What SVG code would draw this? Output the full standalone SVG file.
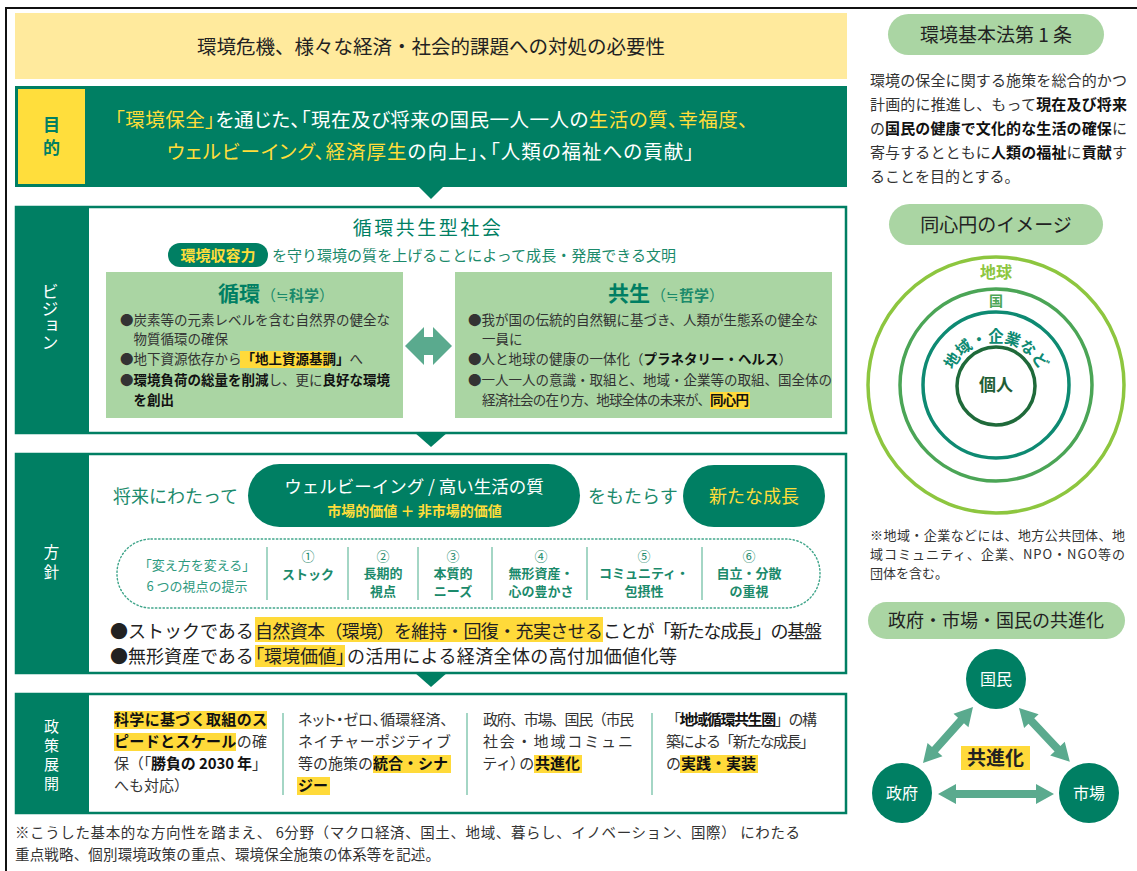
<svg xmlns="http://www.w3.org/2000/svg" width="1137" height="871" viewBox="0 0 1137 871">
<style>
text{font-family:'Noto Sans CJK JP','Noto Sans CJK SC',sans-serif;}
.g{fill:#007F63}.w{fill:#fff}.y{fill:#FFDD3A}.b{font-weight:700}.dk{fill:#333}.bk{fill:#111}.tl{fill:#1B8A6B}
.hl{fill:#FFDA3A}
.lgbox{fill:#AAD5A3}
.sec{fill:#fff;stroke:#007F63;stroke-width:2.5}
.sep{stroke:#86C8B2;stroke-width:1.5}
.arr{fill:#5AAA8E}
.c{text-anchor:middle}
.p{font-feature-settings:'palt'}
</style>

<!-- frame -->
<path d="M6,871 V8 H1137" fill="none" stroke="#111" stroke-width="2"/>

<!-- header -->
<g id="header">
<rect x="15" y="13" width="832" height="66" fill="#FFEA9D"/>
<text x="431" y="54" font-size="19.5" class="c" fill="#222" textLength="468" lengthAdjust="spacing">環境危機、様々な経済・社会的課題への対処の必要性</text>
</g>

<!-- purpose -->
<g id="purpose">
<rect x="15" y="86" width="832" height="101" class="g"/>
<rect x="18" y="89" width="67" height="95" fill="#FFDE3C"/>
<text x="51.5" y="131" font-size="17" class="g b c">目</text>
<text x="51.5" y="154" font-size="17" class="g b c">的</text>
<text x="115" y="127" font-size="19.5" class="p" textLength="633" lengthAdjust="spacing"><tspan class="y">「環境保全」</tspan><tspan class="w">を通じた、「現在及び将来の国民一人一人の</tspan><tspan class="y">生活の質、幸福度、</tspan></text>
<text x="167" y="159" font-size="19.5" class="p" textLength="527" lengthAdjust="spacing"><tspan class="y">ウェルビーイング、経済厚生</tspan><tspan class="w">の向上」、「人類の福祉への貢献」</tspan></text>
</g>

<!-- vision -->
<g id="vision">
<rect x="16" y="207" width="830" height="226" class="sec"/>
<rect x="15" y="206" width="74" height="228" class="g"/>
<text x="50" y="283" font-size="17" class="w" style="writing-mode:vertical-rl">ビジョン</text>
<text x="428" y="235" font-size="19" class="g c" letter-spacing="2.5">循環共生型社会</text>
<rect x="168" y="243" width="100" height="24" rx="12" class="g"/>
<text x="218" y="260.5" font-size="15" class="y b c">環境収容力</text>
<text x="272" y="260.5" font-size="15" class="tl" textLength="404" lengthAdjust="spacing">を守り環境の質を上げることによって成長・発展できる文明</text>

<rect x="106" y="272" width="297" height="146" class="lgbox"/>
<text x="218" y="301"><tspan font-size="21" class="g b">循環</tspan><tspan font-size="15" class="tl" dx="1">（≒<tspan class="b">科学</tspan>）</tspan></text>
<rect x="240" y="351" width="91" height="17" class="hl"/>
<g font-size="13.5" class="dk">
<text x="120" y="325">●炭素等の元素レベルを含む自然界の健全な</text>
<text x="133.5" y="344">物質循環の確保</text>
<text x="120" y="364">●地下資源依存から<tspan class="b bk">「地上資源基調」</tspan>へ</text>
<text x="120" y="385">●<tspan class="b bk">環境負荷の総量を削減</tspan>し、更に<tspan class="b bk">良好な環境</tspan></text>
<text x="133.5" y="405" class="b bk">を創出</text>
</g>

<rect x="455" y="272" width="377" height="146" class="lgbox"/>
<text x="608" y="301"><tspan font-size="21" class="g b">共生</tspan><tspan font-size="15" class="tl" dx="1">（≒<tspan class="b">哲学</tspan>）</tspan></text>
<rect x="710" y="392" width="40" height="17" class="hl"/>
<g font-size="13.5" class="dk">
<text x="468" y="325">●我が国の伝統的自然観に基づき、人類が生態系の健全な</text>
<text x="482" y="344">一員に</text>
<text x="468" y="364">●人と地球の健康の一体化（<tspan class="b bk">プラネタリー・ヘルス</tspan>）</text>
<text x="468" y="385">●一人一人の意識・取組と、地域・企業等の取組、国全体の</text>
<text x="482" y="405" textLength="267" lengthAdjust="spacing">経済社会の在り方、地球全体の未来が、<tspan class="b bk">同心円</tspan></text>
</g>
</g>

<!-- policy -->
<g id="policy">
<rect x="16" y="454" width="830" height="219" class="sec"/>
<rect x="15" y="453" width="74" height="221" class="g"/>
<text x="51.5" y="558" font-size="15.5" class="w c">方</text>
<text x="51.5" y="578" font-size="15.5" class="w c">針</text>
<text x="113" y="503" font-size="18" class="tl">将来にわたって</text>
<rect x="248" y="464" width="332" height="63" rx="31.5" class="g"/>
<text x="414" y="493" font-size="17.5" class="w c">ウェルビーイング / 高い生活の質</text>
<text x="414.5" y="515.5" font-size="14" class="y b c">市場的価値 ＋ 非市場的価値</text>
<text x="588" y="503" font-size="18" class="tl">をもたらす</text>
<rect x="683" y="465" width="142" height="62" rx="31" class="g"/>
<text x="754" y="503" font-size="18" class="y c">新たな成長</text>

<rect x="117" y="539" width="703" height="69" rx="34" fill="none" stroke="#3FA58A" stroke-width="1.4" stroke-dasharray="1.4 2.4" stroke-linecap="round"/>
<text x="197" y="570" font-size="13" class="c" fill="#2F9A80">「変え方を変える」</text>
<text x="197" y="591" font-size="13" class="c" fill="#2F9A80">6 つの視点の提示</text>
<g class="sep">
<line x1="267" y1="547" x2="267" y2="600"/>
<line x1="348" y1="547" x2="348" y2="600"/>
<line x1="418" y1="547" x2="418" y2="600"/>
<line x1="492" y1="547" x2="492" y2="600"/>
<line x1="587" y1="547" x2="587" y2="600"/>
<line x1="702" y1="547" x2="702" y2="600"/>
</g>
<g font-size="13" class="c" fill="#1B8A6B">
<text x="308" y="561">①</text><text x="308" y="579" class="b">ストック</text>
<text x="383" y="561">②</text><text x="383" y="578" class="b">長期的</text><text x="383" y="596" class="b">視点</text>
<text x="453" y="561">③</text><text x="453" y="578" class="b">本質的</text><text x="453" y="596" class="b">ニーズ</text>
<text x="541" y="561">④</text><text x="541" y="578" class="b">無形資産・</text><text x="541" y="596" class="b">心の豊かさ</text>
<text x="644" y="561">⑤</text><text x="644" y="578" class="b">コミュニティ・</text><text x="644" y="596" class="b">包摂性</text>
<text x="749" y="561">⑥</text><text x="749" y="578" class="b">自立・分散</text><text x="749" y="596" class="b">の重視</text>
</g>

<rect x="255" y="617" width="348" height="25" class="hl"/>
<rect x="255" y="645" width="90" height="22" class="hl"/>
<g font-size="18" fill="#222">
<text x="110" y="638">●ストックである</text>
<text x="255" y="638" textLength="348" lengthAdjust="spacing">自然資本（環境）を維持・回復・充実させる</text>
<text x="603" y="638" textLength="219" lengthAdjust="spacing">ことが「新たな成長」の基盤</text>
<text x="110" y="663">●無形資産である</text>
<text x="255" y="663" class="p" textLength="90" lengthAdjust="spacing">「環境価値」</text>
<text x="347" y="663" textLength="330" lengthAdjust="spacing">の活用による経済全体の高付加価値化等</text>
</g>
</g>

<!-- development -->
<g id="development">
<rect x="16" y="694" width="830" height="119" class="sec"/>
<rect x="15" y="693" width="74" height="121" class="g"/>
<g font-size="15" class="w c">
<text x="51.5" y="732">政</text><text x="51.5" y="751">策</text><text x="51.5" y="770">展</text><text x="51.5" y="789">開</text>
</g>
<g class="sep">
<line x1="283" y1="713" x2="283" y2="795"/>
<line x1="467" y1="713" x2="467" y2="795"/>
<line x1="652" y1="713" x2="652" y2="795"/>
</g>
<rect x="114" y="711" width="153" height="18" class="hl"/>
<rect x="114" y="733" width="122" height="18" class="hl"/>
<rect x="373" y="755" width="78" height="18" class="hl"/>
<rect x="297" y="777" width="33" height="18" class="hl"/>
<rect x="534" y="755" width="48" height="18" class="hl"/>
<rect x="680" y="755" width="78" height="18" class="hl"/>
<g font-size="15" class="dk">
<text x="114" y="725" textLength="153" lengthAdjust="spacing" class="b bk">科学に基づく取組のス</text>
<text x="114" y="747" textLength="153" lengthAdjust="spacing"><tspan class="b bk">ピードとスケール</tspan>の確</text>
<text x="114" y="769" textLength="153" lengthAdjust="spacing">保（「<tspan class="b bk">勝負の 2030 年</tspan>」</text>
<text x="114" y="791">へも対応）</text>

<text x="298" y="725" class="p" textLength="150" lengthAdjust="spacing">ネット・ゼロ、循環経済、</text>
<text x="298" y="747" textLength="153" lengthAdjust="spacing">ネイチャーポジティブ</text>
<text x="298" y="769">等の施策の<tspan class="b bk">統合・シナ</tspan></text>
<text x="298" y="791" class="b bk">ジー</text>

<text x="483" y="725" textLength="151" lengthAdjust="spacing">政府、市場、国民（市民</text>
<text x="483" y="747" textLength="150" lengthAdjust="spacing">社会・地域コミュニ</text>
<text x="483" y="769" class="p" textLength="51" lengthAdjust="spacing">ティ）の</text>
<text x="535" y="769" class="b bk">共進化</text>

<text x="666" y="725" textLength="151" lengthAdjust="spacing">「<tspan class="b bk">地域循環共生圏</tspan>」の構</text>
<text x="666" y="747" textLength="149" lengthAdjust="spacing">築による「新たな成長」</text>
<text x="666" y="769">の<tspan class="b bk">実践・実装</tspan></text>
</g>
</g>

<!-- section notches -->
<g id="notches" class="g">
<polygon points="418,186 444,186 431,199"/>
<polygon points="414,432 448,432 431,447"/>
<polygon points="414,672 448,672 431,687"/>
</g>

<!-- footnote -->
<g id="footnote" font-size="14.5" class="dk">
<text x="15" y="838" textLength="785" lengthAdjust="spacing">※こうした基本的な方向性を踏まえ、 6分野（マクロ経済、国土、地域、暮らし、イノベーション、国際） にわたる</text>
<text x="15" y="860" textLength="425" lengthAdjust="spacing">重点戦略、個別環境政策の重点、環境保全施策の体系等を記述。</text>
</g>

<!-- right: law -->
<g id="law">
<rect x="888" y="14" width="216" height="41" rx="20.5" class="lgbox"/>
<text x="996" y="42" font-size="19" class="c" fill="#222">環境基本法第 1 条</text>
<g font-size="15" class="dk">
<text x="870" y="86" textLength="257" lengthAdjust="spacing">環境の保全に関する施策を総合的かつ</text>
<text x="870" y="110" textLength="257" lengthAdjust="spacing">計画的に推進し、もって<tspan class="b bk">現在及び将来</tspan></text>
<text x="870" y="134" textLength="257" lengthAdjust="spacing">の<tspan class="b bk">国民の健康で文化的な生活の確保</tspan>に</text>
<text x="870" y="158" textLength="257" lengthAdjust="spacing">寄与するとともに<tspan class="b bk">人類の福祉</tspan>に<tspan class="b bk">貢献</tspan>す</text>
<text x="870" y="182">ることを目的とする。</text>
</g>
</g>

<!-- right: concentric -->
<g id="concentric">
<rect x="889" y="204" width="214" height="41" rx="20.5" class="lgbox"/>
<text x="996" y="232" font-size="19" class="c" fill="#222">同心円のイメージ</text>
<circle cx="996" cy="385" r="128" fill="none" stroke="#8DC63F" stroke-width="3.5"/>
<circle cx="996" cy="385" r="96" fill="none" stroke="#4BA556" stroke-width="3.5"/>
<circle cx="996" cy="385" r="73" fill="none" stroke="#0E8A72" stroke-width="3.5"/>
<circle cx="996" cy="386" r="39" fill="none" stroke="#1F6A3A" stroke-width="3.5"/>
<text x="996" y="278" font-size="16" class="c b" fill="#8DC63F">地球</text>
<text x="996" y="306" font-size="14" class="c b" fill="#4BA556">国</text>
<path id="arcText" d="M950.6,401.3 A47,47 0 1 1 1041.4,401.3" fill="none"/>
<text font-size="15.5" class="b" fill="#0E8A72"><textPath href="#arcText" startOffset="50%" text-anchor="middle">地域・企業など</textPath></text>
<text x="996" y="391" font-size="17" class="c b" fill="#1F5E36">個人</text>
<g font-size="13" class="dk">
<text x="870" y="540" textLength="255" lengthAdjust="spacing">※地域・企業などには、地方公共団体、地</text>
<text x="870" y="559" textLength="255" lengthAdjust="spacing">域コミュニティ、企業、NPO・NGO等の</text>
<text x="870" y="578">団体を含む。</text>
</g>
</g>

<!-- right: co-evolution -->
<g id="coevo-title">
<rect x="868" y="602" width="257" height="37" rx="18.5" class="lgbox"/>
<text x="996" y="626.5" font-size="18" class="c" fill="#222">政府・市場・国民の共進化</text>
</g>
<g id="node-kokumin"><circle cx="996" cy="679" r="30" class="g"/><text x="996" y="685" font-size="16" class="w c">国民</text></g>
<g id="node-seifu"><circle cx="902" cy="793" r="30" class="g"/><text x="902" y="799" font-size="16" class="w c">政府</text></g>
<g id="node-shijo"><circle cx="1089" cy="793" r="30" class="g"/><text x="1089" y="799" font-size="16" class="w c">市場</text></g>
<g id="coevo-label">
<rect x="961" y="746" width="69" height="24" class="hl"/>
<text x="995.5" y="765" font-size="19" class="c b" fill="#222">共進化</text>
</g>

<!-- connectors -->
<g id="connectors" class="arr">
<polygon points="405,346 424,327 424,337 433,337 433,327 452,346 433,365 433,355 424,355 424,365"/>
<path d="M0,0 L18,-10 L18,-4 L98,-4 L98,-10 L116,0 L98,10 L98,4 L18,4 L18,10 Z" transform="translate(938,794)"/>
<path d="M0,0 L18,-10 L18,-4 L57,-4 L57,-10 L75,0 L57,10 L57,4 L18,4 L18,10 Z" transform="translate(923,763) rotate(-48.2)"/>
<path d="M0,0 L18,-10 L18,-4 L56,-4 L56,-10 L74,0 L56,10 L56,4 L18,4 L18,10 Z" transform="translate(1019,708) rotate(46.6)"/>
</g>
</svg>
